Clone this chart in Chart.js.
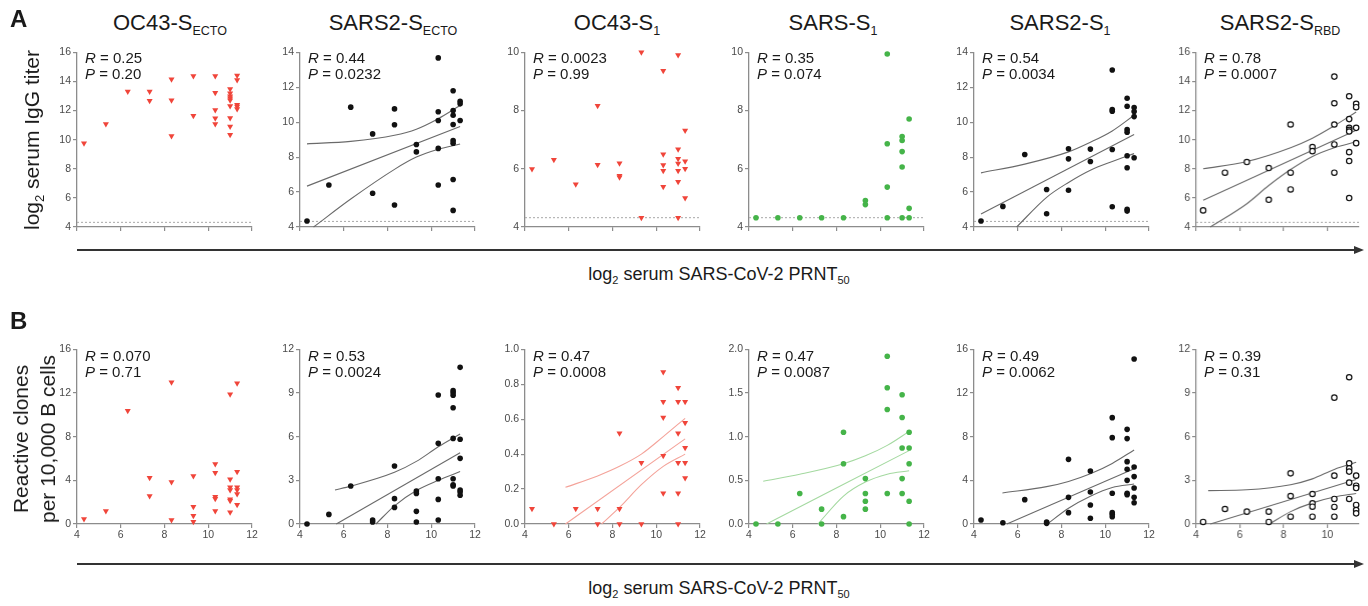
<!DOCTYPE html>
<html><head><meta charset="utf-8">
<script src="https://cdn.jsdelivr.net/npm/chart.js@4.4.1/dist/chart.umd.min.js"></script>
<style>
body{margin:0;background:#fff;}
#root{position:relative;width:1368px;height:606px;overflow:hidden;font-family:"Liberation Sans",Arial,Helvetica,sans-serif;color:#1a1a1a;}
#root canvas{position:absolute;}
.t{position:absolute;white-space:nowrap;}
.title{font-size:22px;transform:translateX(-50%);}
.title sub{font-size:12.5px;vertical-align:-5px;line-height:0;}
.rp{font-size:15px;line-height:15.5px;}
.lab{font-size:18px;transform:translateX(-50%);}
.lab sub{font-size:11px;vertical-align:-4px;line-height:0;}
.ytitle{font-size:21px;text-align:center;transform:translate(-50%,-50%) rotate(-90deg);}
.ytitle sub{font-size:13px;vertical-align:-5px;line-height:0;}
.letter{font-size:24px;font-weight:bold;}
.arrow{position:absolute;height:2px;background:#333;}
.head{position:absolute;width:0;height:0;border-top:4.5px solid transparent;border-bottom:4.5px solid transparent;border-left:10px solid #333;}
</style></head>
<body><div id="root"></div>
<script>
// ---------- data ----------
const prnt = [4.32, 5.32, 6.32, 7.32, 8.32, 9.32, 10.32, 11.0, 11.32];

const titleMain = ['OC43-S', 'SARS2-S', 'OC43-S', 'SARS-S', 'SARS2-S', 'SARS2-S'];
const titleSub = ['ECTO', 'ECTO', '1', '1', '1', 'RBD'];

const iggR = ['0.25', '0.44', '0.0023', '0.35', '0.54', '0.78'];
const iggP = ['0.20', '0.0232', '0.99', '0.074', '0.0034', '0.0007'];
const cloneR = ['0.070', '0.53', '0.47', '0.47', '0.49', '0.39'];
const cloneP = ['0.71', '0.0024', '0.0008', '0.0087', '0.0062', '0.31'];

const iggLOD = 4.32;

// log2 serum IgG titer, grouped by PRNT50 level
const iggOC43Ecto = [[9.75],[11.08],[13.3],[13.3,12.68],[14.15,12.7,10.25],[14.37,11.65],[14.37,13.23,12.04,11.47,11.08],[13.48,13.18,12.98,12.84,12.7,12.31,11.49,10.9,10.34],[14.4,14.1,12.4,12.27,12.1]];
const iggS2Ecto = [[4.34],[6.4],[10.86],[9.33,5.93],[10.76,9.85,5.26],[8.72,8.3],[13.68,10.6,10.1,8.5,6.4],[11.8,10.67,10.4,9.87,8.95,8.8,6.72,4.95],[11.2,11.05,10.1]];
const iggOC43S1 = [[5.99],[6.31],[5.47],[8.16,6.14],[6.19,5.76,5.71],[10.0,4.32],[9.37,6.5,6.13,5.93,5.38],[9.91,6.67,6.34,6.18,5.93,5.55,4.32],[7.31,6.26,6.0,5.0]];
const iggSARSS1 = [[4.32],[4.32],[4.32],[4.32],[4.32],[4.91,4.77],[9.94,6.86,5.37,4.32],[7.11,6.97,6.59,6.06,4.32],[7.71,4.64,4.32]];
const iggS2S1 = [[4.34],[5.18],[8.15],[6.15,4.76],[8.48,7.9,6.1],[8.46,7.75],[12.99,10.72,10.63,8.44,5.16],[11.37,10.91,9.58,9.43,8.08,7.39,5.01,4.91],[10.84,10.61,10.32,7.96]];
const iggS2RBD = [[5.14],[7.73],[8.46],[8.05,5.87],[11.04,7.73,6.58],[9.49,9.21],[14.33,12.5,11.04,9.67,7.73],[12.98,11.41,10.81,10.67,10.56,9.14,8.53,5.99],[12.46,12.23,10.81,9.76]];

// reactive clones per 10,000 B cells, grouped by PRNT50 level
const cloneOC43Ecto = [[0.46],[1.19],[10.38],[4.24,2.56],[12.98,3.85,0.37],[4.4,1.59,0.76,0.21],[5.5,4.7,2.5,2.32,1.19],[11.88,4.09,3.36,3.11,2.26,2.14,1.07],[12.89,4.79,3.36,3.11,2.75,1.77]];
const cloneS2Ecto = [[0],[0.66],[2.61],[0.27,0.14],[3.98,1.74,1.14],[2.27,2.1,0.87,0.14],[8.86,5.54,3.11,1.69,0.27],[9.16,9.02,8.84,7.99,5.88,3.11,2.7,2.61],[10.76,5.82,4.51,2.34,2.2,1.97]];
const cloneOC43S1 = [[0.088],[0],[0.088],[0.088,0],[0.52,0.088,0],[0.35,0],[0.87,0.7,0.61,0.39,0.176],[0.78,0.7,0.52,0.35,0.176,0],[0.7,0.58,0.437,0.35,0.263]];
const cloneSARSS1 = [[0],[0],[0.35],[0.17,0],[1.05,0.69,0.084],[0.52,0.35,0.26,0.17],[1.92,1.56,1.31,0.35],[1.48,1.22,0.87,0.52,0.35],[1.05,0.87,0.69,0.26,0]];
const cloneS2S1 = [[0.37],[0.12],[2.23],[0.18,0.06],[5.92,2.44,1.04],[4.85,2.93,1.74,0.52],[9.74,7.91,2.81,1.04,0.89,0.67],[8.67,7.82,5.71,5.01,4.0,2.81,2.69],[15.11,5.22,4.34,3.3,2.44,1.95]];
const cloneS2RBD = [[0.14],[1.03],[0.85],[0.85,0.14],[3.48,1.92,0.5],[2.06,1.42,1.19,0.5],[8.68,3.32,1.72,1.17,0.5],[10.08,4.17,3.82,3.6,2.84,1.72],[3.32,2.63,2.47,1.31,0.96,0.73]];

// regression fits and 95% bands: [PRNT50, value]
const iggS2EctoMid = [[4.32,6.34],[11.32,9.75]];
const iggS2EctoHi = [[4.32,8.76],[6.32,8.9],[8.32,9.25],[9.32,9.6],[10.32,10.2],[11.32,10.95]];
const iggS2EctoLo = [[4.62,4.0],[6.32,5.6],[8.32,7.3],[9.32,8.0],[10.32,8.45],[11.32,8.75]];
const iggS2S1Mid = [[4.32,4.75],[11.32,9.3]];
const iggS2S1Hi = [[4.32,7.1],[6.32,7.6],[8.32,8.3],[9.32,8.85],[10.32,9.5],[11.32,10.4]];
const iggS2S1Lo = [[5.95,4.0],[7.32,5.7],[8.32,6.55],[9.32,7.25],[10.32,7.75],[11.32,8.2]];
const iggS2RBDMid = [[4.32,5.83],[11.32,10.65]];
const iggS2RBDHi = [[4.32,8.0],[6.32,8.5],[8.32,9.45],[9.32,10.1],[10.32,10.95],[11.32,11.9]];
const iggS2RBDLo = [[4.65,4.0],[6.32,5.6],[7.32,6.85],[8.32,7.95],[9.32,8.85],[10.32,9.45],[11.32,9.85]];

const cloneS2EctoMid = [[5.66,0],[11.32,4.9]];
const cloneS2EctoHi = [[5.6,2.34],[6.32,2.6],[8.32,3.55],[9.32,4.3],[10.32,5.3],[11.32,6.18]];
const cloneS2EctoLo = [[7.47,0],[8.32,1.25],[9.32,2.3],[10.32,3.0],[11.32,3.6]];
const cloneOC43S1Mid = [[5.85,0],[11.32,0.487]];
const cloneOC43S1Hi = [[5.85,0.21],[7.32,0.275],[8.32,0.33],[9.32,0.40],[10.32,0.5],[11.32,0.605]];
const cloneOC43S1Lo = [[7.5,0],[8.32,0.095],[9.32,0.225],[10.32,0.33],[11.32,0.4]];
const cloneSARSS1Mid = [[4.8,0],[11.32,0.84]];
const cloneSARSS1Hi = [[4.65,0.49],[6.32,0.57],[8.32,0.69],[9.32,0.78],[10.32,0.9],[11.32,1.06]];
const cloneSARSS1Lo = [[7.15,0],[8.32,0.32],[9.32,0.48],[10.32,0.57],[11.32,0.61]];
const cloneS2S1Mid = [[5.5,0],[11.32,5.05]];
const cloneS2S1Hi = [[5.3,2.84],[7.32,3.42],[8.32,3.9],[9.32,4.6],[10.32,5.55],[11.32,6.78]];
const cloneS2S1Lo = [[7.35,0],[8.32,1.45],[9.32,2.55],[10.32,3.35],[11.32,3.66]];
const cloneS2RBDMid = [[4.65,0],[11.32,3.05]];
const cloneS2RBDHi = [[4.55,2.29],[6.32,2.35],[8.32,2.7],[9.32,3.1],[10.32,3.75],[11.32,4.24]];
const cloneS2RBDLo = [[7.35,0],[8.32,0.85],[9.32,1.45],[10.32,1.85],[11.32,2.1]];

// axis ticks
const xTicks = [4, 6, 8, 10, 12];
const xAxisMin = 4;
const xAxisMax = [12, 12, 12, 12, 12, 11.45];
const iggYMin = 4, iggYMax = [16, 14, 10, 10, 14, 16], iggYStep = [2, 2, 2, 2, 2, 2];
const cloneYMin = 0, cloneYMax = [16, 12, 1.0, 2.0, 16, 12], cloneYStep = [4, 3, 0.2, 0.5, 4, 3];

// ---------- layout / style ----------
const root = document.getElementById('root');
const AX = [77, 300, 525, 749, 974, 1196];
const ROWTOP = [52, 349];
const PH = 175, YW = 34, PT = 8, PR = 10, XH = 22;
const AXC = '#8c8c8c';
const marker = {
  tri: {pointStyle: 'triangle', rotation: 180, pointRadius: 3.5, pointBackgroundColor: '#f0453a', pointBorderColor: '#f0453a', pointBorderWidth: 0},
  dot: {pointStyle: 'circle', pointRadius: 2.8, pointBackgroundColor: '#111', pointBorderColor: '#111', pointBorderWidth: 0},
  gdot: {pointStyle: 'circle', pointRadius: 2.8, pointBackgroundColor: '#45b449', pointBorderColor: '#45b449', pointBorderWidth: 0},
  ring: {pointStyle: 'circle', pointRadius: 2.7, pointBackgroundColor: '#fff', pointBorderColor: '#111', pointBorderWidth: 1.2}
};
const markerKind = ['tri', 'dot', 'tri', 'gdot', 'dot', 'ring'];

function el(cls, html, css) {
  const d = document.createElement('div');
  d.className = 't ' + cls; d.innerHTML = html; Object.assign(d.style, css); root.appendChild(d); return d;
}
const xy = a => a.map(p => ({x: p[0], y: p[1]}));

function panel(row, i, groups, fits, fitColor, yMin, yMax, yStep) {
  const pw = (xAxisMax[i] - xAxisMin) * 175 / 8;
  const w = YW + pw + PR, h = PT + PH + XH;
  const cv = document.createElement('canvas');
  cv.width = w; cv.height = h;
  Object.assign(cv.style, {left: (AX[i] - YW) + 'px', top: (ROWTOP[row] - PT) + 'px', width: w + 'px', height: h + 'px'});
  root.appendChild(cv);
  const pts = [];
  groups.forEach((g, k) => g.forEach(v => pts.push({x: prnt[k], y: v})));
  const ds = [Object.assign({data: pts, clip: false, order: 0}, marker[markerKind[i]])];
  if (fits) fits.forEach(f => ds.push({data: xy(f), showLine: true, borderColor: fitColor, borderWidth: 1.1,
    pointRadius: 0, cubicInterpolationMode: 'monotone', fill: false, order: 1, clip: false}));
  if (row === 0) ds.push({data: [{x: xAxisMin, y: iggLOD}, {x: xAxisMax[i], y: iggLOD}], showLine: true,
    borderColor: '#a8a8a8', borderWidth: 1, borderDash: [2, 2], pointRadius: 0, order: 2});
  const fmt = v => (yStep < 1 ? Number(v).toFixed(1) : String(Math.round(v)));
  new Chart(cv, {
    type: 'scatter',
    data: {datasets: ds},
    options: {
      responsive: false, animation: false, events: [],
      layout: {padding: {top: PT, right: PR, left: 0, bottom: 0}},
      plugins: {legend: {display: false}, tooltip: {enabled: false}},
      scales: {
        x: {type: 'linear', min: xAxisMin, max: xAxisMax[i],
          ticks: {color: row === 0 ? 'rgba(0,0,0,0)' : '#4a4a4a', font: {family: 'Liberation Sans', size: 10.5}, padding: 1, maxRotation: 0, autoSkip: false},
          afterBuildTicks: s => { s.ticks = xTicks.filter(v => v <= xAxisMax[i] + 1e-9).map(v => ({value: v})); },
          afterFit: s => { s.height = XH; },
          grid: {display: true, drawOnChartArea: false, drawTicks: true, tickLength: 4, color: AXC, lineWidth: 1.2},
          border: {display: true, color: AXC, width: 1.3}},
        y: {type: 'linear', min: yMin, max: yMax,
          ticks: {stepSize: yStep, color: '#4a4a4a', font: {family: 'Liberation Sans', size: 10.5}, padding: 2, callback: fmt},
          afterFit: s => { s.width = YW; },
          grid: {display: true, drawOnChartArea: false, drawTicks: true, tickLength: 4, color: AXC, lineWidth: 1.2},
          border: {display: true, color: AXC, width: 1.3}}
      }
    }
  });
}

const iggGroups = [iggOC43Ecto, iggS2Ecto, iggOC43S1, iggSARSS1, iggS2S1, iggS2RBD];
const iggFits = [null, [iggS2EctoMid, iggS2EctoHi, iggS2EctoLo], null, null, [iggS2S1Mid, iggS2S1Hi, iggS2S1Lo], [iggS2RBDMid, iggS2RBDHi, iggS2RBDLo]];
const cloneGroups = [cloneOC43Ecto, cloneS2Ecto, cloneOC43S1, cloneSARSS1, cloneS2S1, cloneS2RBD];
const cloneFits = [null, [cloneS2EctoMid, cloneS2EctoHi, cloneS2EctoLo], [cloneOC43S1Mid, cloneOC43S1Hi, cloneOC43S1Lo],
  [cloneSARSS1Mid, cloneSARSS1Hi, cloneSARSS1Lo], [cloneS2S1Mid, cloneS2S1Hi, cloneS2S1Lo], [cloneS2RBDMid, cloneS2RBDHi, cloneS2RBDLo]];
const cloneFitColor = ['#6a6a6a', '#6a6a6a', '#f4a39a', '#a4d9a0', '#6a6a6a', '#6a6a6a'];
const titleDx = [93, 93, 92, 84, 86, 84];

for (let i = 0; i < 6; i++) {
  panel(0, i, iggGroups[i], iggFits[i], '#6a6a6a', iggYMin, iggYMax[i], iggYStep[i]);
  panel(1, i, cloneGroups[i], cloneFits[i], cloneFitColor[i], cloneYMin, cloneYMax[i], cloneYStep[i]);
  el('title', titleMain[i] + '<sub>' + titleSub[i] + '</sub>', {left: (AX[i] + titleDx[i]) + 'px', top: '10px'});
  el('rp', '<i>R</i> = ' + iggR[i] + '<br><i>P</i> = ' + iggP[i], {left: (AX[i] + 8) + 'px', top: (ROWTOP[0] - 2) + 'px'});
  el('rp', '<i>R</i> = ' + cloneR[i] + '<br><i>P</i> = ' + cloneP[i], {left: (AX[i] + 8) + 'px', top: (ROWTOP[1] - 1) + 'px'});
}

el('letter', 'A', {left: '10px', top: '5px'});
el('letter', 'B', {left: '10px', top: '307px'});
el('ytitle', 'log<sub>2</sub> serum IgG titer', {left: '32px', top: '140px'});
el('ytitle', 'Reactive clones<br>per 10,000 B cells', {left: '34px', top: '439px', lineHeight: '27px'});

[250, 564].forEach(y => {
  const a = document.createElement('div'); a.className = 'arrow';
  Object.assign(a.style, {left: '77px', top: (y - 1) + 'px', width: '1278px'}); root.appendChild(a);
  const hd = document.createElement('div'); hd.className = 'head';
  Object.assign(hd.style, {left: '1354px', top: (y - 4.5) + 'px'}); root.appendChild(hd);
  el('lab', 'log<sub>2</sub> serum SARS-CoV-2 PRNT<sub>50</sub>', {left: '719px', top: (y + 14) + 'px'});
});
</script></body></html>
